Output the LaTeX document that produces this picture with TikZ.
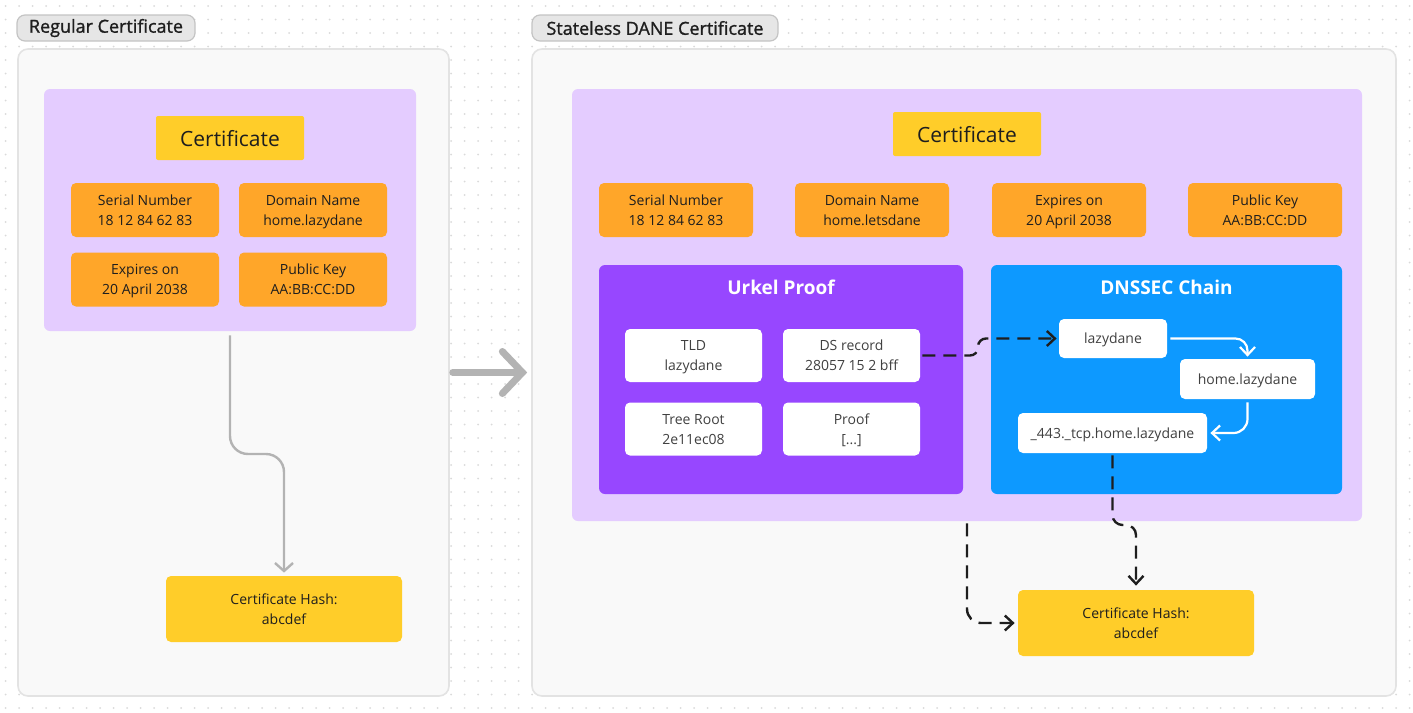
\documentclass[tikz,border=0pt]{standalone}
\usepackage{fontspec}
\setmainfont{Open Sans}
\newfontfamily\tagfont{Open Sans}[FakeBold=1.2]
\usetikzlibrary{arrows.meta}
\definecolor{ink}{HTML}{1E1E1E}
\definecolor{dotgray}{HTML}{DADADA}
\definecolor{panelbg}{HTML}{F9F9F9}
\definecolor{panelline}{HTML}{E3E3E3}
\definecolor{tagfill}{HTML}{E6E6E6}
\definecolor{tagline}{HTML}{C4C4C4}
\definecolor{lilac}{HTML}{E4CCFF}
\definecolor{gold}{HTML}{FFCD29}
\definecolor{amber}{HTML}{FFA629}
\definecolor{urkel}{HTML}{9747FF}
\definecolor{dnssec}{HTML}{0D99FF}
\definecolor{linkgray}{HTML}{B3B3B3}
\tikzset{
  box/.style={rounded corners=2.5pt, align=center, inner sep=0pt, text=ink, text depth=0pt,
    font=\fontsize{7}{10}\selectfont},
  panel/.style={draw=panelline, fill=panelbg, line width=0.8pt, rounded corners=5pt, inner sep=0pt},
  tag/.style={draw=tagline, fill=tagfill, line width=0.6pt, rounded corners=4pt, inner sep=0pt,
    text=ink, font=\tagfont\fontsize{9}{11}\selectfont},
  group/.style={fill=lilac, rounded corners=3pt, inner sep=0pt},
  certbox/.style={box, fill=gold, rounded corners=1pt, font=\fontsize{10.5}{12}\selectfont,
    minimum width=74pt, minimum height=22pt},
  field/.style={box, fill=amber, minimum height=27pt},
  entry/.style={box, fill=white, text=ink!85},
  hashbox/.style={box, fill=gold, minimum width=118pt, minimum height=33pt},
  proofbox/.style={rounded corners=3pt, inner sep=0pt, minimum height=114.5pt},
  heading/.style={text=white, font=\bfseries\fontsize{9.5}{11}\selectfont},
  graylink/.style={draw=linkgray, line width=1.2pt, rounded corners=9pt,
    -{Straight Barb[length=4pt, width=9pt, line width=1.2pt]}},
  bigarrow/.style={draw=linkgray, line width=3.5pt, line cap=round,
    -{Straight Barb[length=10pt, width=21pt, line cap=round, line width=3.5pt]}},
  dashlink/.style={draw=ink, line width=1.2pt, dash pattern=on 6.5pt off 4pt,
    -{Straight Barb[length=4pt, width=7.5pt, line width=1.2pt]}},
  chainlink/.style={draw=white, line width=1.1pt,
    -{Straight Barb[length=4pt, width=7.5pt, line width=1.1pt]}}
}
\begin{document}
\begin{tikzpicture}[x=0.5pt, y=-0.5pt]
\useasboundingbox (0,0) rectangle (1413,712);
\fill[white] (0,0) rectangle (1413,712);
% dotted canvas
\foreach \i in {0,...,104}
  \foreach \j in {0,...,52}
    \fill[dotgray] (5.7+13.5*\i, 6+13.5*\j) circle (0.5pt);

% regular certificate
\node[panel, minimum width=215.5pt, minimum height=323.5pt] (leftpanel) at (233.5,372.5) {};
\node[tag, minimum width=89pt, minimum height=13pt] (lefttag) at (106,28) {Regular Certificate};
\node[group, minimum width=186pt, minimum height=121pt] (leftgroup) at (230,210) {};
\node[certbox] (leftcert) at (230,138) {Certificate};
\node[field, minimum width=74pt] (leftserial) at (145,210) {Serial Number\\18 12 84 62 83};
\node[field, minimum width=74pt] (leftdomain) at (313,210) {Domain Name\\home.lazydane};
\node[field, minimum width=74pt] (leftexpiry) at (145,279.5) {Expires on\\20 April 2038};
\node[field, minimum width=74pt] (leftkey) at (313,279.5) {Public Key\\AA:BB:CC:DD};
\node[hashbox] (lefthash) at (284,609) {Certificate Hash:\\abcdef};
\draw[graylink, shorten <=2pt, shorten >=1.5pt]
  (leftgroup.south) -- (230,454) -- (284,454) -- (lefthash.north);

% stateless dane certificate
\node[panel, minimum width=432pt, minimum height=323.5pt] (rightpanel) at (964,372.5) {};
\node[tag, minimum width=123pt, minimum height=13pt] (righttag) at (655,28) {Stateless DANE Certificate};
\node[group, minimum width=395pt, minimum height=216pt] (rightgroup) at (967,305) {};
\node[certbox] (rightcert) at (967,134) {Certificate};
\node[field, minimum width=77pt] (rightserial) at (676,210) {Serial Number\\18 12 84 62 83};
\node[field, minimum width=77pt] (rightdomain) at (872,210) {Domain Name\\home.letsdane};
\node[field, minimum width=77pt] (rightexpiry) at (1069,210) {Expires on\\20 April 2038};
\node[field, minimum width=77pt] (rightkey) at (1265,210) {Public Key\\AA:BB:CC:DD};

\node[proofbox, fill=urkel, minimum width=182pt] (proof) at (781,379.5) {};
\node[heading] (prooftitle) at (781,287) {Urkel Proof};
\node[entry, minimum width=68.5pt, minimum height=26.5pt] (tld) at (693.5,355.5) {TLD\\lazydane};
\node[entry, minimum width=68.5pt, minimum height=26.5pt] (ds) at (851.5,355.5) {DS record\\28057 15 2 bff};
\node[entry, minimum width=68.5pt, minimum height=26.5pt] (root) at (693.5,429) {Tree Root\\2e11ec08};
\node[entry, minimum width=68.5pt, minimum height=26.5pt] (path) at (851.5,429) {Proof\\{[...]}};

\node[proofbox, fill=dnssec, minimum width=175.5pt] (chain) at (1166.5,379.5) {};
\node[heading] (chaintitle) at (1166.5,287) {DNSSEC Chain};
\node[entry, minimum width=54pt, minimum height=19.5pt] (tldzone) at (1113,338.5) {lazydane};
\node[entry, minimum width=67.5pt, minimum height=20pt] (homezone) at (1247.5,379) {home.lazydane};
\node[entry, minimum width=94.5pt, minimum height=20pt] (tlsa) at (1112.5,433) {\_443.\_tcp.home.lazydane};

\node[hashbox] (righthash) at (1136,623) {Certificate Hash:\\abcdef};

\draw[bigarrow, shorten <=1.5pt, shorten >=2pt] (leftpanel.east) -- (rightpanel.west);
\draw[dashlink, rounded corners=4pt, shorten <=1pt, shorten >=1pt]
  (ds.east) -- (978,355.5) -- (978,338.5) -- (tldzone.west);
\draw[chainlink, rounded corners=6pt, shorten <=1.5pt, shorten >=1pt]
  (tldzone.east) -- (1247.5,338.5) -- (homezone.north);
\draw[chainlink, rounded corners=7pt, shorten <=1.5pt, shorten >=1.5pt]
  (homezone.south) -- (1247.5,433) -- (tlsa.east);
\draw[dashlink, rounded corners=5pt, shorten <=1pt, shorten >=2pt]
  (tlsa.south) -- (1112.5,525) -- (1136,525) -- (righthash.north);
\draw[dashlink, rounded corners=7pt, shorten <=1pt, shorten >=1.5pt]
  (rightgroup.south) -- (967,623) -- (righthash.west);
\end{tikzpicture}
\end{document}
